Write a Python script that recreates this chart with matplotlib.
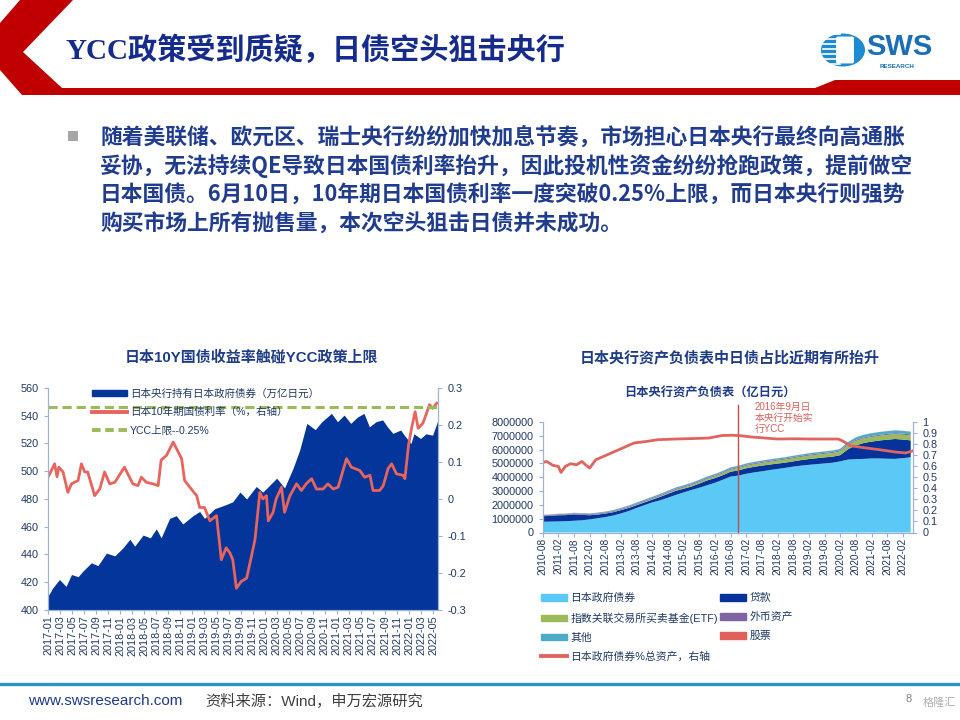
import matplotlib.pyplot as plt
import matplotlib.patches as mpatches
from matplotlib.lines import Line2D
import numpy as np
import pandas as pd

plt.rcParams['font.family'] = ['Liberation Sans', 'Noto Sans CJK SC']
plt.rcParams['axes.unicode_minus'] = False

# ---------------- left chart data (months since 2017-01) ----------------
bond_t = [0, 0.8, 1.9, 3.0, 3.9, 5.0, 5.8, 7.2, 8.3, 9.7, 11.1, 12.5, 13.6, 14.4, 15.8,
          17.0, 18.0, 18.8, 20.2, 21.3, 22.4, 24.1, 25.2, 26.0, 27.7, 29.6, 30.7, 31.9,
          33.0, 34.6, 35.7, 38.0, 39.3, 40.7, 41.8, 43.0, 44.4, 45.5, 47.1, 48.1, 49.2,
          50.3, 51.4, 52.5, 53.4, 54.5, 55.6, 56.4, 57.3, 58.6, 59.2, 60.3, 60.8, 61.9,
          62.8, 63.9, 64.8]
bond_holdings = [410, 416, 422, 417, 425.6, 424, 428, 434, 432, 441, 439, 445, 451, 446, 454,
                 452, 458.5, 452, 466, 468, 462, 468, 471, 466, 473, 476, 478, 485,
                 480, 489, 485, 495, 488, 502, 515, 534.5, 530, 535.7, 541.7, 535.7, 540.5,
                 534.5, 539, 541.7, 532, 535.7, 537, 532, 527.3, 529.7, 526, 520, 527, 523.6,
                 527, 526, 537]

yield_t = [0, 0.55, 1.1, 1.5, 1.8, 2.5, 3.3, 3.9, 5.0, 5.55, 6.1, 6.6, 7.75, 8.6, 9.4,
           10.25, 11.1, 12.7, 14.1, 14.95, 15.5, 16.35, 17.45, 18.3, 18.8, 19.7, 20.8,
           22.2, 22.7, 23.8, 24.7, 25.2, 26.0, 26.9, 28.0, 28.8, 29.6, 30.2, 30.7, 31.3,
           32.1, 33.0, 33.8, 34.4, 35.2, 35.7, 36.3, 36.6, 37.4, 37.9, 38.8, 39.3, 40.2,
           41.3, 42.1, 42.9, 43.8, 44.6, 45.7, 46.5, 47.4, 48.2, 49.6, 50.4, 51.8, 52.6,
           53.5, 54.0, 55.1, 55.7, 56.5, 57.1, 57.9, 59.0, 59.3, 59.9, 60.4, 61.0, 61.5,
           62.3, 63.4, 63.9, 64.6]
jgb_10y = [0.059, 0.077, 0.095, 0.06, 0.086, 0.073, 0.018, 0.041, 0.05, 0.095, 0.073, 0.073,
           0.009, 0.027, 0.073, 0.041, 0.045, 0.086, 0.041, 0.036, 0.059, 0.045, 0.041, 0.036,
           0.105, 0.118, 0.154, 0.109, 0.05, 0.027, 0.009, -0.023, -0.023, -0.059, -0.045,
           -0.164, -0.132, -0.145, -0.164, -0.241, -0.223, -0.214, -0.155, -0.109, 0.018, 0.0,
           0.009, -0.059, -0.036, 0.0, 0.032, -0.036, 0.009, 0.041, 0.023, 0.041, 0.055, 0.027,
           0.027, 0.041, 0.027, 0.032, 0.109, 0.086, 0.077, 0.059, 0.064, 0.023, 0.023, 0.036,
           0.082, 0.095, 0.068, 0.064, 0.055, 0.145, 0.191, 0.236, 0.191, 0.205, 0.255, 0.245,
           0.259]
ycc_cap = 0.25

# ---------------- right chart data (quarterly from 2010-08, 亿日元) ----------------
bs_jgb = [780000, 790000, 800000, 820000, 850000, 880000, 950000, 1030000, 1120000, 1230000,
          1380000, 1560000, 1780000, 1980000, 2180000, 2330000, 2520000, 2720000, 2900000,
          3080000, 3240000, 3420000, 3600000, 3820000, 4050000, 4120000, 4250000, 4350000,
          4430000, 4520000, 4600000, 4680000, 4770000, 4840000, 4900000, 4950000, 5000000,
          5050000, 5150000, 5280000, 5310000, 5330000, 5360000, 5360000, 5340000, 5330000,
          5380000, 5450000]
bs_loans = [400000, 420000, 450000, 440000, 460000, 400000, 300000, 270000, 250000, 240000,
            240000, 220000, 200000, 200000, 200000, 250000, 280000, 300000, 270000, 250000,
            300000, 350000, 340000, 330000, 350000, 380000, 400000, 410000, 410000, 400000,
            390000, 380000, 380000, 400000, 420000, 430000, 440000, 440000, 450000, 750000,
            1000000, 1150000, 1220000, 1300000, 1380000, 1440000, 1350000, 1220000]
bs_etf = [3000, 5000, 8000, 10000, 12000, 14000, 16000, 18000, 20000, 22000, 25000, 30000,
          35000, 40000, 45000, 50000, 60000, 70000, 80000, 90000, 100000, 110000, 120000,
          135000, 150000, 165000, 175000, 185000, 195000, 205000, 215000, 225000, 230000,
          238000, 245000, 252000, 258000, 265000, 275000, 300000, 320000, 330000, 335000,
          340000, 345000, 348000, 350000, 352000]
bs_fx = [50000, 50000, 51000, 52000, 52000, 53000, 54000, 55000, 56000, 58000, 60000, 62000,
         64000, 65000, 66000, 67000, 68000, 68000, 69000, 70000, 70000, 70000, 68000, 66000,
         65000, 65000, 66000, 66000, 67000, 67000, 68000, 68000, 69000, 69000, 70000, 70000,
         70000, 70000, 71000, 71000, 72000, 72000, 73000, 73000, 74000, 75000, 78000, 80000]
bs_other = [30000, 32000, 35000, 38000, 40000, 45000, 50000, 55000, 60000, 65000, 70000,
            75000, 80000, 85000, 88000, 90000, 92000, 95000, 98000, 100000, 100000, 102000,
            101000, 100000, 99000, 100000, 101000, 100000, 102000, 101000, 100000, 99000,
            100000, 101000, 100000, 102000, 101000, 100000, 110000, 150000, 180000, 190000,
            200000, 198000, 200000, 202000, 200000, 200000]
bs_stock = [15000, 15000, 15000, 14000, 14000, 14000, 13000, 13000, 13000, 12000, 12000,
            12000, 11000, 11000, 11000, 10000, 10000, 10000, 9000, 9000, 9000, 9000, 8000,
            8000, 8000, 8000, 8000, 7000, 7000, 7000, 7000, 7000, 6000, 6000, 6000, 6000,
            6000, 6000, 5000, 5000, 5000, 5000, 5000, 5000, 5000, 5000, 5000, 5000]
bs_labels = ['日本政府债券', '贷款', '指数关联交易所买卖基金(ETF)', '外币资产', '其他', '股票']

ratio_t = [0, 1.5, 4, 6, 7, 8.7, 10.6, 13, 15, 16.4, 18, 20.3, 24.8, 30, 35, 40, 44.2, 50.7,
           57.2, 63.6, 68.8, 72.7, 75.4, 79.7, 90, 96.5, 103, 113.3, 115.2, 117.8, 122.3,
           128.8, 135.3, 139.1, 142]
jgb_share = [0.634, 0.643, 0.607, 0.598, 0.543, 0.598, 0.622, 0.613, 0.643, 0.613, 0.583,
             0.658, 0.704, 0.758, 0.81, 0.825, 0.84, 0.846, 0.85, 0.855, 0.878, 0.88, 0.877,
             0.865, 0.846, 0.848, 0.846, 0.846, 0.825, 0.786, 0.77, 0.75, 0.728, 0.72, 0.74]
ycc_start_month = 75  # 2016-09 in the chart's month axis

NAVY_TXT = '#1F3864'
SPINE = '#9DB3CF'


def fx(x):
    return x / 960


def fy(y):
    return 1 - y / 720


fig = plt.figure(figsize=(9.6, 7.2), dpi=100)
fig.patch.set_facecolor('white')

# ---------------- slide header ----------------
red_shape = [(20, 0), (73, 0), (23, 52), (62, 88), (815, 88), (835, 80), (960, 80),
             (960, 95), (22, 95), (0, 70), (0, 23)]
fig.add_artist(mpatches.Polygon([(fx(a), fy(b)) for a, b in red_shape], closed=True,
                                transform=fig.transFigure, facecolor='#C00000', edgecolor='none'))
fig.text(fx(65), fy(50), 'YCC政策受到质疑，日债空头狙击央行', fontsize=21, fontweight='bold',
         color='#152C8C', va='center', ha='left',
         family=['Liberation Serif', 'Noto Sans CJK SC'])

# logo
fig.add_artist(mpatches.Circle((fx(843), fy(50)), 22 / 960, transform=fig.transFigure,
                               facecolor='#1E8AD2', edgecolor='none'))
for yy in range(34, 68, 5):
    fig.add_artist(Line2D([fx(823), fx(840)], [fy(yy), fy(yy)], transform=fig.transFigure,
                          color='white', lw=1.2))
fig.add_artist(mpatches.FancyBboxPatch((fx(838), fy(62)), 14 / 960, 24 / 720,
                                       boxstyle='round,pad=0.002', transform=fig.transFigure,
                                       facecolor='white', edgecolor='none'))
fig.text(fx(866), fy(47), 'SWS', fontsize=21, fontweight='bold', color='#1B6FB8',
         va='center', ha='left')
fig.text(fx(880), fy(66), 'RESEARCH', fontsize=4.5, fontweight='bold', color='#1B6FB8',
         va='center', ha='left')

# ---------------- body text ----------------
fig.add_artist(mpatches.Rectangle((fx(68), fy(141)), 10 / 960, 10 / 720,
                                  transform=fig.transFigure, facecolor='#A6A6A6',
                                  edgecolor='none'))
body_lines = ['随着美联储、欧元区、瑞士央行纷纷加快加息节奏，市场担心日本央行最终向高通胀',
              '妥协，无法持续QE导致日本国债利率抬升，因此投机性资金纷纷抢跑政策，提前做空',
              '日本国债。6月10日，10年期日本国债利率一度突破0.25%上限，而日本央行则强势',
              '购买市场上所有抛售量，本次空头狙击日债并未成功。']
for i, line in enumerate(body_lines):
    fig.text(fx(100), fy(137 + 29 * i), line, fontsize=15.7, fontweight='bold',
             color='#203C8E', va='center', ha='left', family=['Noto Sans CJK SC'])

# ---------------- left chart ----------------
fig.text(fx(251), fy(358), '日本10Y国债收益率触碰YCC政策上限', fontsize=10.8, fontweight='bold',
         color='#1F3C88', ha='center', va='center')

axL = fig.add_axes([fx(48), fy(610), 390 / 960, 222 / 720])
axL.fill_between(bond_t, bond_holdings, 400, color='#04359B', lw=0)
axL.set_ylim(400, 560)
axL.set_yticks(np.arange(400, 561, 20))
axL.set_xlim(0, 64.8)
left_ticks = pd.date_range('2017-01-01', '2022-05-01', freq='2MS').strftime('%Y-%m')
axL.set_xticks(np.arange(0, 65, 2))
axL.set_xticklabels(left_ticks, rotation=90, fontsize=7.8)

axL2 = axL.twinx()
axL2.plot(yield_t, jgb_10y, color='#E8645C', lw=2.0)
axL2.axhline(ycc_cap, color='#9BBB59', lw=2.2, ls=(0, (3, 1.6)))
axL2.set_ylim(-0.3, 0.3)
axL2.set_yticks(np.arange(-0.3, 0.31, 0.1))
axL2.set_yticklabels(['-0.3', '-0.2', '-0.1', '0', '0.1', '0.2', '0.3'])

for a in (axL, axL2):
    a.set_facecolor('none')
    for s in a.spines.values():
        s.set_color(SPINE)
    a.spines['top'].set_visible(False)
    a.tick_params(colors=SPINE, labelcolor=NAVY_TXT, labelsize=7.8, length=3, width=0.8)
axL.tick_params(axis='x', pad=1)
axL2.tick_params(axis='y', pad=4)

left_handles = [mpatches.Patch(color='#04359B'),
                Line2D([], [], color='#E8645C', lw=2.8),
                Line2D([], [], color='#9BBB59', lw=2.8, ls=(0, (2.2, 1.2)))]
left_labels = ['日本央行持有日本政府债券（万亿日元）', '日本10年期国债利率（%，右轴）', 'YCC上限--0.25%']
legL = axL2.legend(left_handles, left_labels, loc='upper left', bbox_to_anchor=(0.113, 0.998),
                   frameon=False, fontsize=7.6, handlelength=3.3, handleheight=0.55,
                   handletextpad=0.3, labelspacing=0.78, borderpad=0, borderaxespad=0)
for t in legL.get_texts():
    t.set_color(NAVY_TXT)

# ---------------- right chart ----------------
fig.text(fx(730), fy(358), '日本央行资产负债表中日债占比近期有所抬升', fontsize=10.8,
         fontweight='bold', color='#1F3C88', ha='center', va='center')
fig.text(fx(710), fy(394), '日本央行资产负债表（亿日元）', fontsize=8.8, fontweight='bold',
         color='#1F3C88', ha='center', va='center')

bs_t = np.arange(0, 3 * len(bs_jgb), 3)
axR = fig.add_axes([fx(542.7), fy(532.5), 370.6 / 960, 110.5 / 720])
stack_colors = ['#5BC9F5', '#06339A', '#9BBB59', '#8064A2', '#4BACC6', '#E0605A']
axR.stackplot(bs_t, bs_jgb, bs_loans, bs_etf, bs_fx, bs_other, bs_stock,
              colors=stack_colors, lw=0)
axR.set_ylim(0, 8000000)
axR.set_yticks(np.arange(0, 8000001, 1000000))
axR.set_yticklabels([str(v) for v in range(0, 8000001, 1000000)])
axR.set_xlim(0, 142)
right_ticks = pd.date_range('2010-08-01', '2022-02-01', freq='6MS').strftime('%Y-%m')
axR.set_xticks(np.arange(0, 139, 6))
axR.set_xticklabels(right_ticks, rotation=90, fontsize=7.3)
axR.axvline(ycc_start_month, ymin=0, ymax=1.155, color='#C0504D', lw=1.0, clip_on=False)

axR2 = axR.twinx()
axR2.plot(ratio_t, jgb_share, color='#E0645F', lw=2.0)
axR2.set_ylim(0, 1)
axR2.set_yticks(np.arange(0, 1.01, 0.1))
axR2.set_yticklabels(['0', '0.1', '0.2', '0.3', '0.4', '0.5', '0.6', '0.7', '0.8', '0.9', '1'])

for a in (axR, axR2):
    a.set_facecolor('none')
    for s in a.spines.values():
        s.set_color(SPINE)
    a.spines['top'].set_visible(False)
    a.tick_params(colors=SPINE, labelcolor=NAVY_TXT, labelsize=7.8, length=3, width=0.8)
axR.tick_params(axis='x', pad=1, labelsize=7.3)

fig.text(fx(755), fy(402), '2016年9月日\n本央行开始实\n行YCC', fontsize=7.0, color='#D9605A',
         ha='left', va='top', linespacing=1.15)

right_handles = [mpatches.Patch(color=c) for c in stack_colors]
right_handles.append(Line2D([], [], color='#E0645F', lw=2.8))
right_labels = bs_labels + ['日本政府债券%总资产，右轴']
# column-major order: col1 = JGB, ETF, 其他, ratio ; col2 = 贷款, 外币资产, 股票
order = [0, 2, 4, 6, 1, 3, 5]
legR = axR2.legend([right_handles[i] for i in order], [right_labels[i] for i in order],
                   loc='upper left', bbox_to_anchor=(fx(541), fy(593)),
                   bbox_transform=fig.transFigure, ncol=2, frameon=False, fontsize=7.8,
                   handlelength=2.4, handleheight=0.5, handletextpad=0.3, labelspacing=0.82,
                   columnspacing=0.2, borderpad=0, borderaxespad=0)
for t in legR.get_texts():
    t.set_color(NAVY_TXT)

# ---------------- footer ----------------
fig.add_artist(Line2D([0, 1], [fy(684), fy(684)], transform=fig.transFigure,
                      color='#2A93C9', lw=2.4))
fig.text(fx(28), fy(701), 'www.swsresearch.com', fontsize=11, color='#1F3A8A',
         ha='left', va='center')
fig.text(fx(205), fy(701), '资料来源：Wind，申万宏源研究', fontsize=11, color='#404040',
         ha='left', va='center')
fig.text(fx(906), fy(699), '8', fontsize=8, color='#808080', ha='left', va='center')
fig.text(fx(956), fy(703), '格隆汇', fontsize=8, color='#B0B0B0', ha='right', va='center',
         family=['Noto Sans CJK SC'])

fig.savefig('out.png', dpi=100)
